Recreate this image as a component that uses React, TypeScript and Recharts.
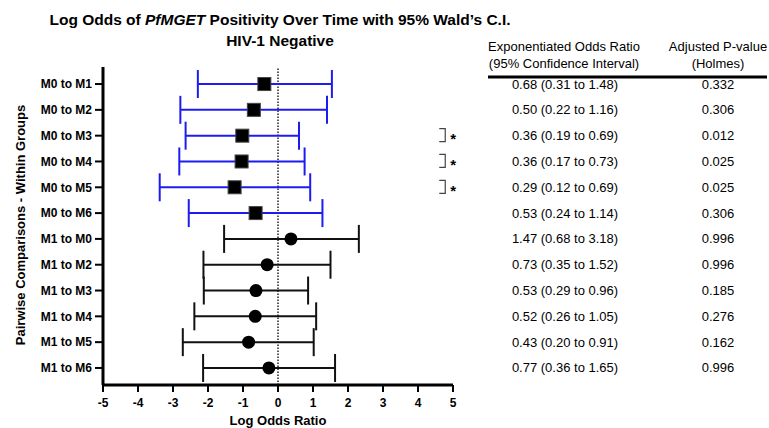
import React from 'react'
import { ScatterChart, Scatter, XAxis, YAxis, ErrorBar, ReferenceLine } from 'recharts'

// Pairwise comparisons, top to bottom
const comparisons = [
  'M0 to M1', 'M0 to M2', 'M0 to M3', 'M0 to M4', 'M0 to M5', 'M0 to M6',
  'M1 to M0', 'M1 to M2', 'M1 to M3', 'M1 to M4', 'M1 to M5', 'M1 to M6',
]
const logOdds = [-0.39, -0.69, -1.02, -1.04, -1.24, -0.64, 0.37, -0.31, -0.63, -0.65, -0.84, -0.26]
const ciLow = [-2.29, -2.79, -2.64, -2.82, -3.38, -2.55, -1.54, -2.13, -2.12, -2.39, -2.72, -2.14]
const ciHigh = [1.54, 1.4, 0.6, 0.76, 0.92, 1.27, 2.31, 1.5, 0.86, 1.09, 1.02, 1.63]
const oddsRatioText = [
  '0.68 (0.31 to 1.48)', '0.50 (0.22 to 1.16)', '0.36 (0.19 to 0.69)', '0.36 (0.17 to 0.73)',
  '0.29 (0.12 to 0.69)', '0.53 (0.24 to 1.14)', '1.47 (0.68 to 3.18)', '0.73 (0.35 to 1.52)',
  '0.53 (0.29 to 0.96)', '0.52 (0.26 to 1.05)', '0.43 (0.20 to 0.91)', '0.77 (0.36 to 1.65)',
]
const pValues = [0.332, 0.306, 0.012, 0.025, 0.025, 0.306, 0.996, 0.996, 0.185, 0.276, 0.162, 0.996]
const xTicks = [-5, -4, -3, -2, -1, 0, 1, 2, 3, 4, 5]

const FONT = '"Liberation Sans", Arial, Helvetica, sans-serif'
const BLUE = '#1c1cf2'
const BLACK = '#111'

const rows = comparisons.map((name, i) => ({
  name,
  x: logOdds[i],
  y: i,
  err: [logOdds[i] - ciLow[i], ciHigh[i] - logOdds[i]],
  ratio: oddsRatioText[i],
  p: pValues[i],
}))
const m0Rows = rows.filter(r => r.name.startsWith('M0'))
const m1Rows = rows.filter(r => r.name.startsWith('M1'))
// significance brackets sit just inside the right edge of the plot
const sigRows = m0Rows.filter(r => r.p < 0.05).map(r => ({ ...r, x: 4.75 }))

const SquareDot = (props: any) => (
  <rect x={props.cx - 6.5} y={props.cy - 6.5} width={13} height={13} fill="#000" stroke="#444" strokeWidth={1} />
)
const CircleDot = (props: any) => <circle cx={props.cx} cy={props.cy} r={6.5} fill="#000" />

const SigMark = (props: any) => (
  <g>
    <path d={`M ${props.cx - 5} ${props.cy - 7} H ${props.cx + 1} V ${props.cy + 6} H ${props.cx - 5}`} fill="none" stroke="#444" strokeWidth={1.2} />
    <text x={props.cx + 9} y={props.cy + 3} textAnchor="middle" dominantBaseline="central" fontSize={15} fontWeight="bold" fill="#000">*</text>
  </g>
)

// table text to the right of the plot, one line per comparison
const TableRow = (props: any) => (
  <g fontSize={13} fill="#000">
    <text x={565} y={props.cy} textAnchor="middle" dominantBaseline="central">{props.payload.ratio}</text>
    <text x={718} y={props.cy} textAnchor="middle" dominantBaseline="central">{props.payload.p.toFixed(3)}</text>
  </g>
)

export default function App() {
  return (
    <div style={{ position: 'absolute', left: 0, top: 0, width: 769, height: 428, fontFamily: FONT, background: '#fff' }}>
      <ScatterChart width={769} height={428} margin={{ top: 67, right: 316, bottom: 0, left: 0 }}>
        <XAxis
          type="number"
          dataKey="x"
          domain={[-5, 5]}
          ticks={xTicks}
          height={43}
          axisLine={{ stroke: '#000', strokeWidth: 3 }}
          tickLine={{ stroke: '#000', strokeWidth: 2 }}
          tickSize={7}
          tickMargin={6}
          tick={{ fill: '#000', fontSize: 12, fontWeight: 'bold' }}
        />
        <YAxis
          type="number"
          dataKey="y"
          domain={[-0.66, 11.66]}
          ticks={comparisons.map((_, i) => i)}
          tickFormatter={(v: number) => comparisons[v] ?? ''}
          reversed
          width={103}
          axisLine={{ stroke: '#000', strokeWidth: 3 }}
          tickLine={{ stroke: '#000', strokeWidth: 2 }}
          tickSize={8}
          tickMargin={3}
          tick={{ fill: '#000', fontSize: 12, fontWeight: 'bold' }}
        />
        <ReferenceLine x={0} stroke="#222" strokeWidth={1.5} strokeDasharray="1.5 1.5" />
        <Scatter data={m0Rows} shape={SquareDot} isAnimationActive={false}>
          <ErrorBar dataKey="err" direction="x" width={14} stroke={BLUE} strokeWidth={2} />
        </Scatter>
        <Scatter data={m1Rows} shape={CircleDot} isAnimationActive={false}>
          <ErrorBar dataKey="err" direction="x" width={14} stroke={BLACK} strokeWidth={2} />
        </Scatter>
        <Scatter data={sigRows} shape={SigMark} isAnimationActive={false} />
        <Scatter data={rows} shape={TableRow} isAnimationActive={false} />
      </ScatterChart>
      <svg width={769} height={428} style={{ position: 'absolute', left: 0, top: 0, pointerEvents: 'none' }}>
        <text x={280} y={19} textAnchor="middle" dominantBaseline="central" fontSize={15.5} fontWeight="bold">
          Log Odds of <tspan fontStyle="italic">PfMGET</tspan> Positivity Over Time with 95% Wald’s C.I.
        </text>
        <text x={280} y={40} textAnchor="middle" dominantBaseline="central" fontSize={15.5} fontWeight="bold">
          HIV-1 Negative
        </text>
        <text x={20} y={225} transform="rotate(-90 20 225)" textAnchor="middle" dominantBaseline="central" fontSize={13} fontWeight="bold">
          Pairwise Comparisons - Within Groups
        </text>
        <text x={278} y={420} textAnchor="middle" dominantBaseline="central" fontSize={13} fontWeight="bold">
          Log Odds Ratio
        </text>
        <g fontSize={13} textAnchor="middle" dominantBaseline="central">
          <text x={564} y={46}>Exponentiated Odds Ratio</text>
          <text x={564} y={63}>(95% Confidence Interval)</text>
          <text x={718} y={46}>Adjusted P-value</text>
          <text x={718} y={63}>(Holmes)</text>
        </g>
        <line x1={488} x2={767} y1={77} y2={77} stroke="#000" strokeWidth={3} />
      </svg>
    </div>
  )
}
